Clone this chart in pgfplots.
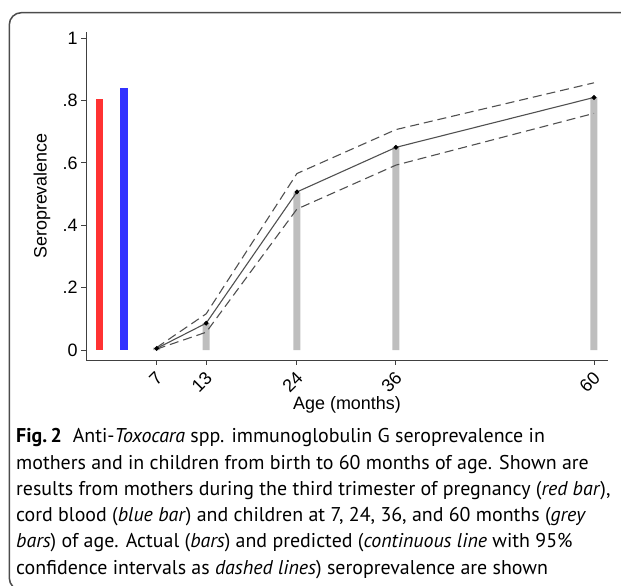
\documentclass[border=0pt]{standalone}
\usepackage{fontspec}
\setmainfont{Liberation Sans}
\newfontfamily\capfont{PT Sans}
\usepackage{pgfplots}
\pgfplotsset{compat=1.18}
\definecolor{myred}{RGB}{255,50,50}
\definecolor{myblue}{RGB}{50,50,255}
\definecolor{mygrey}{RGB}{190,190,190}
\definecolor{linegrey}{RGB}{80,80,80}
\begin{document}
\begin{tikzpicture}
\useasboundingbox (0bp,0bp) rectangle (621bp,586bp);
\begin{scope}
\clip (0bp,0bp) rectangle (621bp,586bp);
\draw[line width=1.5bp, color=black!70, rounded corners=12bp] (9.3bp,-4bp) rectangle (640bp,573.3bp);
\end{scope}
\begin{axis}[
  at={(86bp,226bp)}, anchor=south west,
  scale only axis, width=522bp, height=328bp,
  xmin=-1.56, xmax=61.7, ymin=-0.032, ymax=1.02,
  axis x line*=bottom, axis y line*=left,
  axis line style={-, black!75, line width=0.9bp},
  tick style={black!75, line width=0.9bp},
  tick align=outside, major tick length=5bp,
  xtick={7,13,24,36,60}, xticklabels={7,13,24,36,60},
  ytick={0,0.2,0.4,0.6,0.8,1}, yticklabels={0,.2,.4,.6,.8,1},
  /pgf/number format/assume math mode=true,
  ticklabel style={font=\fontsize{18}{18}\selectfont},
  xticklabel style={rotate=45, anchor=north east, inner sep=1.5bp, xshift=-3.5bp, yshift=-1bp},
  xlabel={Age (months)}, ylabel={Seroprevalence},
  label style={font=\fontsize{18}{18}\selectfont},
  xlabel style={at={(axis description cs:0.5,-0.137)}, anchor=center},
  ylabel style={at={(axis description cs:-0.0843,0.5)}, anchor=center, rotate=0},
  clip=false,
]
\addplot[ybar, bar width=0.88, bar shift=0pt, fill=myred, draw=none] coordinates {(0.1,0.805)};
\addplot[ybar, bar width=0.95, bar shift=0pt, fill=myblue, draw=none] coordinates {(3.0,0.84)};
\addplot[ybar, bar width=0.85, bar shift=0pt, fill=mygrey, draw=none] coordinates {(7,0.008)(13,0.086)(24,0.505)(36,0.65)(60,0.81)};
\addplot[linegrey, line width=1.1bp, dash pattern=on 9bp off 5bp] coordinates {(7,0.003)(13,0.057)(24,0.452)(36,0.593)(60,0.759)};
\addplot[linegrey, line width=1.1bp, dash pattern=on 9bp off 5bp] coordinates {(7,0.008)(13,0.116)(24,0.566)(36,0.707)(60,0.857)};
\addplot[linegrey, line width=1.1bp, mark=*, mark size=1.8bp, mark options={black, fill=black, solid}] coordinates {(7,0.005)(13,0.086)(24,0.507)(36,0.65)(60,0.81)};
\end{axis}
\begin{scope}[every node/.style={anchor=base west, inner sep=0pt, font=\capfont\fontsize{20}{20}\selectfont}]
\node at (16bp,143bp) {\textbf{Fig.\,2}\hspace{0.55em}Anti-\textit{Toxocara} spp. immunoglobulin G seroprevalence in};
\node at (16bp,116.8bp) {mothers and in children from birth to 60 months of age. Shown are};
\node at (16bp,90.6bp) {results from mothers during the third trimester of pregnancy (\textit{red bar}),};
\node at (16bp,64.4bp) {cord blood (\textit{blue bar}) and children at 7, 24, 36, and 60 months (\textit{grey}};
\node at (16bp,38.2bp) {\textit{bars}) of age. Actual (\textit{bars}) and predicted (\textit{continuous line} with 95\%};
\node at (16bp,12bp) {confidence intervals as \textit{dashed lines}) seroprevalence are shown};
\end{scope}
\end{tikzpicture}
\end{document}
